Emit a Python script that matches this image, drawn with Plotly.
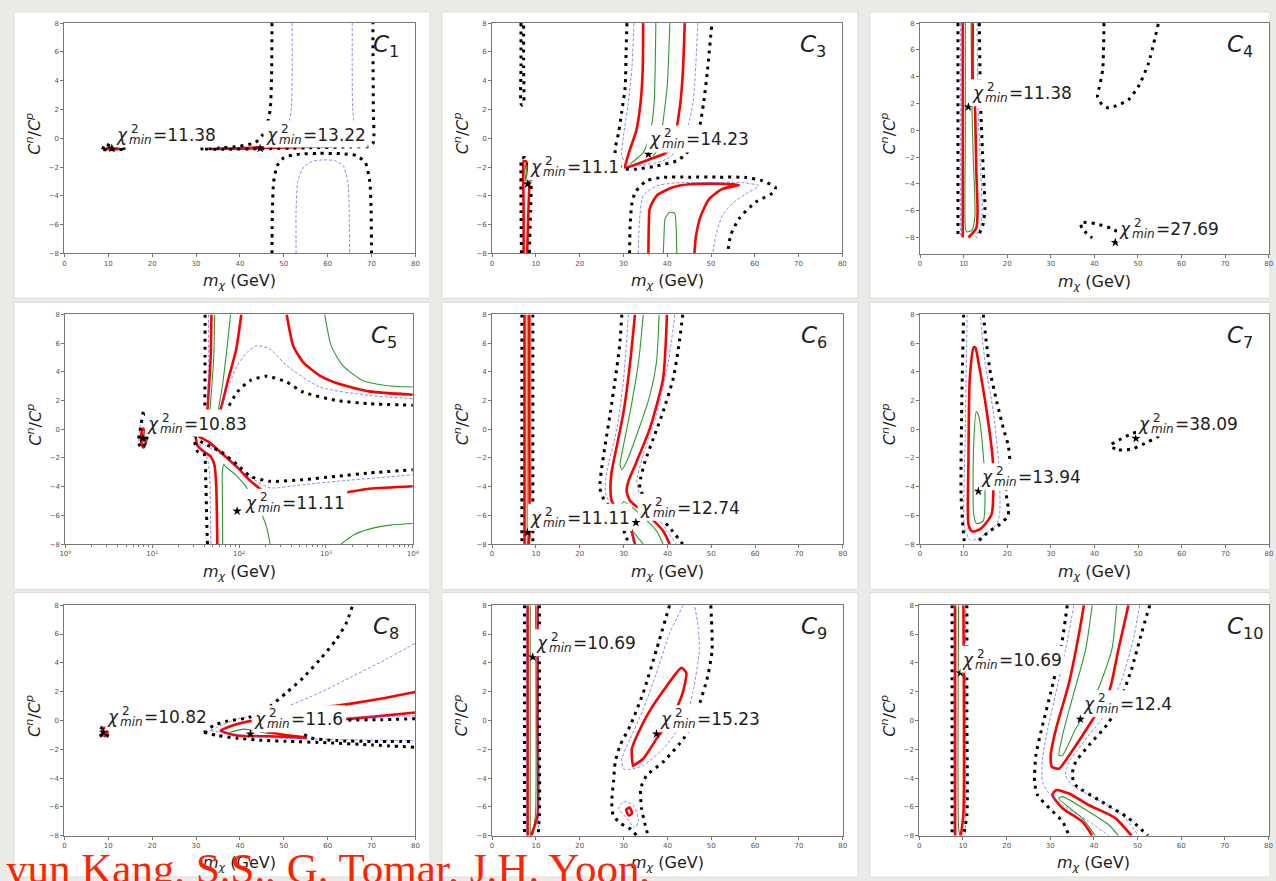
import math
import plotly.graph_objects as go

W, H = 1276, 881

# ---------------------------------------------------------------- data
# Contour curves: lists of (m_chi [GeV], C^n/C^p) vertices.
# levels: green (inner), red, blue dashed, black dotted (outer)

# ---- C1
C1_green = [[(47, -0.63), (51, -0.61), (55, -0.6)]]
C1_red = [[(9.5, -0.72), (11, -0.66), (12.5, -0.72), (11, -0.78), (9.5, -0.72)],
          [(33, -0.74), (40, -0.72), (45, -0.68), (50, -0.64), (56, -0.59), (62, -0.55)],
          [(40, -0.69), (45, -0.63), (50, -0.6), (56, -0.56), (62, -0.52)]]
C1_dashed = [[(51.9, 8), (51.9, 4), (51.7, 2), (51.2, 1.2), (50.5, 0.9)],
             [(65.6, 8), (65.6, 4), (65.7, 2), (66.0, 1.1)],
             [(33, -0.7), (45, -0.66), (55, -0.6), (65, -0.56), (68, -0.55)],
             [(52.8, -8), (52.8, -5), (53.2, -3), (54.5, -2), (56.5, -1.6), (59, -1.5),
              (61.5, -1.55), (63.5, -1.9), (64.6, -3), (64.9, -5), (65.0, -8)]]
C1_dotted = [[(47.3, 8), (47.2, 4), (46.9, 2), (46.2, 1.0), (45.0, 0.15), (43.5, -0.3), (40, -0.55),
              (35, -0.68), (31, -0.74), (36, -0.76), (45, -0.73), (55, -0.67), (65, -0.6),
              (69.5, -0.55), (70.4, -0.3), (70.4, 2), (70.3, 8)],
             [(47.3, -8), (47.4, -5), (47.7, -3), (48.5, -1.9), (50, -1.35), (53, -1.12), (58, -1.05),
              (63, -1.07), (66.5, -1.2), (68.6, -1.7), (69.6, -3), (69.9, -5), (70.0, -8)],
             [(8.7, -0.78), (9.3, -0.4), (10.5, -0.55), (12.5, -0.62), (14.1, -0.75), (8.7, -0.8)]]
C1_star_x = [10.8, 44.6]
C1_star_y = [-0.7, -0.7]
C1_chi2 = ["11.38", "13.22"]
C1_label_x = [11.9, 46.1]
C1_label_y = [0.26, 0.26]

# ---- C3
C3_green = [[(7.6, -1.8), (7.9, -2.3), (7.7, -3.0), (7.5, -2.3), (7.6, -1.8)],
            [(37.4, 8), (37.0, 2.44), (36.0, 0.15), (34.5, -1.0), (31.5, -1.8)],
            [(40.6, 8), (40.0, 3.6), (39.1, 1.3), (38.3, -0.54), (36.8, -1.23)],
            [(39.1, -8), (39.3, -6.5), (39.5, -5.6), (40.5, -5.15), (41.7, -5.2), (42.0, -6.0),
             (42.1, -6.8), (42.2, -8)]]
C3_red = [[(7.2, -8), (7.2, -5), (7.1, -2.5), (7.2, -1.6), (7.7, -1.6), (8.3, -2.2), (8.5, -3),
           (8.3, -5), (8.0, -8)],
          [(34.5, 8), (34.4, 4.74), (33.9, 2.44), (33.0, 0.61), (31.5, -0.77), (30.8, -1.46),
           (30.4, -2.03), (33.0, -1.8), (36.0, -1.46), (39.1, -1.11), (40.2, -0.88)],
          [(44.0, 8), (43.6, 4.74), (43.0, 2.44), (42.2, 0.72)],
          [(35.7, -8), (35.8, -6), (36.0, -4.9), (37.6, -3.98), (41.3, -3.41), (45, -3.2), (50, -3.15),
           (53.5, -3.18), (56.4, -3.25), (52.6, -3.52), (49.6, -4.21), (47.7, -5.36), (46.6, -6.74),
           (46.2, -8)]]
C3_dashed = [[(32.4, 8), (31.9, 4.74), (31.1, 2.44), (30.0, 0.15), (29.6, -1.23), (30.8, -1.8),
              (33.0, -1.92), (39.0, -1.57), (42.1, -0.88), (44.7, 0.84), (45.9, 2.44), (47.0, 8)],
             [(33.4, -8), (33.6, -6), (34.5, -4.0), (37.6, -3.3), (42, -3.1), (50, -3.07), (57, -3.07),
              (60.9, -3.3), (57.9, -3.87), (55, -4.5), (52.6, -5.36), (51.1, -6.74), (50.4, -8)]]
C3_dotted = [[(6.6, 8), (6.6, 5), (6.6, 2.4), (6.9, 2.3), (7.2, 2.4), (7.2, 5), (7.2, 8)],
             [(6.7, -8), (6.6, -5), (6.6, -2), (6.7, -1.4), (7.5, -1.35), (8.2, -1.8), (8.9, -3.0),
              (8.8, -5), (8.5, -8)],
             [(30.8, 8), (30.6, 5.9), (30.4, 3.6), (29.6, 1.8), (28.9, 0.4), (28.1, -0.8), (28.5, -1.7),
              (29.6, -2.05), (31, -2.15), (33, -2.15), (37.6, -1.92), (42.1, -1.57), (44.3, -1.1),
              (46.0, -0.2), (47.4, 0.84), (48.3, 2.44), (49.2, 4.74), (50.2, 8)],
             [(31.4, -8), (31.5, -6.28), (31.9, -4.6), (32.7, -3.75), (35.3, -2.95), (39, -2.72),
              (45, -2.7), (52, -2.7), (57.9, -2.72), (61.7, -2.95), (64.7, -3.41), (64.3, -3.75),
              (60.2, -4.44), (56.4, -5.59), (54.5, -6.74), (53.8, -8)]]
C3_star_x = [8.1, 35.7]
C3_star_y = [-3.18, -1.11]
C3_chi2 = ["11.1", "14.23"]
C3_label_x = [8.9, 36.0]
C3_label_y = [-2.03, -0.08]

# ---- C4
C4_green = [[(10.4, 8), (10.4, 0), (10.4, -7.3), (10.7, -7.58), (11.9, -7.46), (12.6, -6.35),
             (12.2, -2), (11.9, 2.03), (11.7, 8)]]
C4_red = [[(9.8, 8), (9.8, 0), (9.8, -8)],
          [(12.1, 8), (12.1, 3.76), (12.6, 1.79), (12.9, -2.9), (13.2, -6.1), (12.9, -7.3), (11.1, -8)]]
C4_dashed = [[(9.3, 8), (9.3, 0), (9.3, -8)],
             [(13.1, 8), (13.3, 2), (13.9, -3), (14.3, -5.9), (13.9, -7.2), (12.6, -8)]]
C4_dotted = [[(8.7, 8), (8.7, 0), (8.7, -8)],
             [(13.6, 8), (13.9, 2.03), (14.5, -2.9), (14.9, -5.86), (14.4, -7.1), (13.4, -7.83), (13.0, -8)],
             [(42.2, 8), (41.9, 4.5), (41.0, 3.02), (40.7, 2.53), (41.8, 1.91), (43.3, 1.66), (45.6, 1.91),
              (47.8, 2.28), (50.1, 3.27), (52.4, 4.99), (54.7, 8)],
             [(45.2, -7.55), (44.1, -7.34), (40.3, -6.97), (36.9, -6.89), (37.2, -7.34), (39.5, -8.03)]]
C4_star_x = [11.1, 44.8]
C4_star_y = [1.74, -8.37]
C4_chi2 = ["11.38", "27.69"]
C4_label_x = [12.1, 45.9]
C4_label_y = [2.77, -7.34]

# ---- C5 (log mass axis)
C5_green = [[(7.8, -0.9), (7.7, -0.5), (8.0, -0.2), (8.1, -0.6), (7.8, -0.9)],
            [(52.3, 8), (51, 5), (48.5, 3), (46, 1.2)],
            [(79.7, 8), (72, 5.5), (64, 3), (57, 1.2)],
            [(966, 8), (1150, 5.81), (1563, 4.43), (2643, 3.4), (4876, 3.05), (10000, 2.94)],
            [(64.5, -8), (64.3, -5), (64.0, -3), (66.5, -2.45), (69.8, -2.6), (94.9, -3.28),
             (134.7, -4.43), (175, -5.7), (208, -6.85), (227, -8)],
            [(1496, -8), (2100, -7.35), (3148, -6.96), (5500, -6.68), (10000, -6.57)]]
C5_red = [[(7.6, -1.1), (7.4, -0.5), (7.8, 0.05), (8.3, -0.15), (8.5, -0.8), (8.0, -1.25), (7.6, -1.1)],
          [(48, 8), (47, 5), (45, 3), (43, 1.2)],
          [(106, 8), (92, 5.5), (75, 3.5), (62, 1.5), (58, 1.0)],
          [(353, 8), (420, 5.81), (547, 4.66), (847, 3.74), (1312, 3.23), (3148, 2.64), (10000, 2.41)],
          [(31.6, -0.55), (33, -1.1), (38, -1.5), (47, -1.9), (52, -2.5), (54.5, -4), (55.5, -6), (56.1, -8)],
          [(34, -0.5), (45, -0.9), (61.2, -1.6), (94.9, -2.65), (134.7, -3.6), (191, -4.35)],
          [(1432, -4.5), (3148, -4.15), (10000, -3.97)]]
C5_dashed = [[(7.3, -1.2), (7.0, -0.6), (7.5, 0.5), (8.3, 0.3), (8.7, -0.7), (8.0, -1.35), (7.3, -1.2)],
             [(44.4, 8), (44.2, 5), (43.8, 2.5), (43.5, 1.2), (45, 0.7), (55, 0.8), (61.2, 1.21), (70, 2.5),
              (94.9, 4.43), (125, 5.4), (160, 5.81), (227, 5.58), (353, 4.43), (847, 2.94), (3148, 2.36),
              (10000, 2.13)],
             [(47.3, -8), (46.5, -5), (45.5, -3), (43, -2.0), (38, -1.4), (35, -0.95), (38, -1.0),
              (47, -1.35), (56, -1.55), (94.9, -2.7), (160, -3.63), (227, -4.09), (547, -3.86),
              (1312, -3.63), (10000, -3.17)]]
C5_dotted = [[(8.0, 1.33), (8.9, 0.06), (8.5, -0.86), (7.5, -1.32), (6.9, -0.86), (7.2, -0.17), (8.0, 1.33)],
             [(40.6, 8), (40.5, 5), (40.4, 3), (40.3, 1.2), (41, 0.3), (50, 0.3), (62, 0.7), (69.8, 1.21),
              (94.9, 2.59), (134.7, 3.4), (208, 3.7), (353, 3.28), (547, 2.59), (1312, 2.01), (3148, 1.78),
              (10000, 1.67)],
             [(43.2, -8), (42.2, -6), (41.3, -3.63), (39.5, -1.74), (33.2, -1.55), (30.4, -0.52),
              (36.2, -0.86), (47.1, -1.21), (61.2, -1.55), (94.9, -2.47), (134.7, -3.28), (227.5, -3.63),
              (547, -3.51), (1312, -3.28), (3148, -3.05), (10000, -2.82)]]
C5_star_x = [7.8, 94.9]
C5_star_y = [-0.63, -5.7]
C5_chi2 = ["10.83", "11.11"]
C5_label_x = [8.9, 121]
C5_label_y = [0.4, -5.12]

# ---- C6
C6_green = [[(8.0, 8), (8.0, -8)],
            [(34.5, 8), (33.4, 4.66), (31.5, 1.21), (30.0, -1.09), (29.2, -2.47), (29.6, -2.82),
             (30.7, -2.24), (33.0, -0.4), (36.0, 2.36), (37.5, 4.66), (38.1, 8)],
            [(34.5, -8), (31.5, -6.85), (29.4, -5.5), (30.0, -5.05), (33.0, -5.7), (37.5, -7.08), (39.0, -8)]]
C6_red = [[(7.4, 8), (7.4, 0), (7.4, -8)],
          [(8.5, 8), (8.5, 0), (8.5, -7.5), (8.3, -8)],
          [(32.6, 8), (31.5, 4.66), (30.0, 1.21), (28.5, -1.1), (27.3, -2.93), (27.0, -4.09), (27.3, -5.0),
           (28.5, -5.6), (30.0, -6.3), (31.5, -6.85), (32.6, -8)],
          [(39.9, 8), (39.0, 3.51), (36.0, 0.06), (33.0, -2.24), (31.1, -3.63), (30.7, -4.32), (31.5, -5.0),
           (35.3, -5.93), (39.0, -7.08), (40.5, -8)]]
C6_dashed = [[(31.1, 8), (30.0, 3.51), (28.5, 0.06), (26.2, -2.93), (25.8, -4.32), (27.0, -5.24),
              (29.0, -6.0), (31.5, -6.85), (32.2, -8)],
             [(41.7, 8), (40.2, 4.66), (37.5, 1.0), (34.5, -1.78), (33.0, -3.63), (33.7, -4.55), (36.0, -5.5),
              (38.3, -6.39), (42.0, -8)]]
C6_dotted = [[(6.8, 8), (6.8, 0), (6.8, -8)],
             [(9.3, 8), (9.3, 0), (9.3, -8)],
             [(29.6, 8), (29.1, 5.81), (28.1, 3.51), (27.0, 1.21), (25.8, -1.09), (24.9, -2.93), (24.6, -4.09),
              (25.5, -4.89), (26.6, -5.35), (28.9, -6.39), (30.4, -7.31), (31.1, -8)],
             [(43.5, 8), (42.6, 5.81), (41.3, 3.51), (39.0, 1.21), (36.8, -0.63), (34.9, -2.24), (33.9, -3.4),
              (33.7, -4.2), (34.9, -4.78), (38.0, -6.0), (40.5, -6.85), (43.5, -8)]]
C6_star_x = [8.1, 32.8]
C6_star_y = [-7.19, -6.5]
C6_chi2 = ["11.11", "12.74"]
C6_label_x = [8.9, 33.9]
C6_label_y = [-6.16, -5.47]

# ---- C7
C7_green = [[(12.9, 1.21), (12.3, -1.1), (12.3, -5.93), (13.0, -6.57), (14.5, -6.39), (14.9, -4.55),
             (14.5, -1.78), (13.4, 0.98), (12.9, 1.21)]]
C7_red = [[(12.3, 5.7), (11.4, 3.51), (11.1, -2.24), (11.1, -6.62), (11.9, -7.12), (13.8, -6.96),
           (16.4, -5.93), (16.7, -2.24), (15.3, 1.21), (13.4, 4.66), (12.7, 5.7), (12.3, 5.7)]]
C7_dashed = [[(10.8, 8), (10.4, 0.06), (10.2, -6.85), (11.5, -7.73), (13.0, -7.66), (17.6, -6.62),
              (18.3, -5.7), (18.0, -2.24), (16.8, 1.21), (14.9, 4.66), (13.8, 8)]]
C7_dotted = [[(10.0, 8), (9.6, 2.36), (9.4, -4.55), (9.85, -6.85), (10.2, -8)],
             [(14.5, 8), (15.3, 5.81), (16.1, 3.97), (17.6, 1.9), (19.1, 0.06), (20.2, -1.09), (20.6, -2.24),
              (20.1, -3.3), (19.7, -4.32), (20.2, -5.47), (20.2, -6.04), (18.3, -6.62), (16.1, -7.08),
              (14.2, -7.54), (13.0, -8)],
             [(43.7, -1.21), (45.6, -1.44), (48.6, -1.37), (52.4, -0.86), (55.1, -0.36), (54.3, -0.06),
              (50.9, -0.06), (47.9, -0.4), (45.6, -0.75), (43.9, -1.05), (43.7, -1.21)]]
C7_star_x = [13.4, 49.5]
C7_star_y = [-4.32, -0.63]
C7_chi2 = ["13.94", "38.09"]
C7_label_x = [14.2, 50.2]
C7_label_y = [-3.35, 0.4]

# ---- C8
C8_green = [[(37.8, -0.82), (40.9, -0.6), (43.9, -0.78)],
            [(44.5, -0.8), (46.9, -0.94)]]
C8_red = [[(8.6, -0.6), (9.4, -0.5), (9.8, -0.85), (9.2, -1.1), (8.7, -0.95), (8.6, -0.6)],
          [(42.7, -0.02), (39.4, -0.25), (35.6, -0.71), (39.4, -1.05), (46.9, -1.1), (55.2, -1.22)],
          [(46.1, -0.78), (50.0, -1.0), (55.2, -1.2)],
          [(55.9, 0.78), (65.0, 1.15), (72.0, 1.5), (80.0, 1.97)],
          [(64.2, 0.09), (70.0, 0.25), (80.0, 0.55)]]
C8_dashed = [[(8.6, -0.5), (9.8, -0.55), (9.9, -1.0), (8.7, -1.05), (8.6, -0.5)],
             [(33.3, -0.71), (36.0, -0.3), (39.4, 0.09), (44.0, 0.4), (49.1, 0.78), (58.2, 1.93),
              (65.7, 3.07), (73.2, 4.22), (80.0, 5.36)],
             [(33.3, -0.71), (40.0, -1.0), (47.0, -1.2), (54.4, -1.28), (65.0, -1.35), (80.0, -1.4)],
             [(80.0, 0.32), (70.0, 0.25), (64.0, 0.2)]]
C8_dotted = [[(8.5, -0.5), (9.6, -0.45), (10.1, -0.8), (9.6, -1.15), (8.6, -1.15), (8.1, -0.85), (8.5, -0.5)],
             [(31.8, -0.82), (34.0, -0.35), (37.0, -0.05), (42.0, 0.2), (46.9, 1.0), (50.6, 1.93),
              (54.4, 2.96), (58.2, 4.22), (61.9, 5.59), (64.2, 6.74), (65.7, 8)],
             [(31.8, -0.82), (35.0, -1.05), (39.4, -1.24), (45.0, -1.38), (50.6, -1.45), (60.0, -1.55),
              (70.0, -1.7), (80.0, -1.86)],
             [(80.0, 0.12), (72.0, 0.05), (64.0, 0.0), (58.0, -0.3), (54.0, -0.8), (56.0, -1.2), (62.0, -1.4),
              (70.0, -1.46), (80.0, -1.47)]]
C8_star_x = [8.9, 42.4]
C8_star_y = [-0.82, -0.94]
C8_chi2 = ["10.82", "11.6"]
C8_label_x = [10.0, 43.5]
C8_label_y = [0.21, 0.09]

# ---- C9
C9_green = [[(8.7, 8), (8.7, -8)],
            [(9.9, 8), (9.9, -6.5), (9.3, -7.9)]]
C9_red = [[(8.1, 8), (8.1, 0), (8.1, -8)],
          [(10.4, 8), (10.4, 0), (10.4, -6.55), (9.5, -7.5), (8.9, -8)],
          [(32.2, -3.16), (31.9, -1.97), (35.3, 0.32), (39.8, 2.38), (43.2, 3.65), (44.3, 3.3), (43.5, 1.93),
           (41.3, 0.32), (37.5, -1.28), (34.5, -2.66), (32.6, -3.07), (32.2, -3.16)],
          [(30.6, -6.2), (31.4, -6.05), (31.9, -6.45), (31.2, -6.6), (30.6, -6.2)]]
C9_dashed = [[(7.8, 8), (7.8, -8)],
             [(10.6, 8), (10.6, -8)],
             [(43.6, 8), (40.5, 6.05), (37.5, 3.3), (34.5, 0.78), (31.5, -1.28), (29.6, -2.66), (30.0, -3.35),
              (31.5, -3.4), (34.5, -3.12), (39.0, -1.97), (42.0, -0.82), (44.3, 0.32), (45.8, 1.93),
              (47.3, 4.91), (47.0, 6.5), (46.2, 8)],
             [(28.9, -6.1), (30.0, -5.64), (32.2, -5.87), (33.4, -7.01), (32.6, -7.47), (30.7, -6.78),
              (28.9, -6.1)]]
C9_dotted = [[(7.4, 8), (7.4, 0), (7.4, -8)],
             [(10.8, 8), (10.8, 0), (10.8, -6.5), (10.5, -8)],
             [(40.5, 8), (37.5, 4.91), (34.5, 1.93), (31.5, -0.37), (29.2, -1.74), (28.1, -2.89), (27.7, -4.26),
              (27.3, -5.64), (27.6, -6.55), (29.2, -7.13), (31.5, -7.52), (33.0, -8)],
             [(49.9, 8), (50.2, 4.91), (49.2, 3.07), (46.9, 0.78), (43.9, -1.17), (39.0, -2.89), (35.3, -3.8),
              (33.9, -4.72), (34.1, -6.1), (35.1, -7.47), (35.6, -8)]]
C9_star_x = [9.3, 37.5]
C9_star_y = [4.4, -0.94]
C9_chi2 = ["10.69", "15.23"]
C9_label_x = [10.2, 38.6]
C9_label_y = [5.36, 0.09]

# ---- C10
C10_green = [[(9.0, 8), (9.0, -7.5), (9.3, -8)],
             [(39.6, 8), (38.1, 4.91), (35.0, 1.47), (32.8, -1.05), (32.0, -2.43), (32.8, -2.43), (35.8, -0.6),
              (40.3, 1.7), (44.1, 4.91), (45.2, 8)],
             [(45.6, -8), (43.4, -7.24), (38.8, -6.33), (32.8, -5.29), (31.9, -5.41), (37.3, -6.78), (40.3, -8)]]
C10_red = [[(8.2, 8), (8.2, -8)],
           [(10.1, 8), (10.1, -6.5), (9.5, -8)],
           [(37.7, 8), (36.6, 6.05), (34.3, 2.61), (31.3, -0.6), (30.1, -2.43), (30.4, -3.23), (32.0, -3.35),
            (34.3, -2.43), (38.8, -0.37), (43.4, 1.93), (45.6, 4.91), (47.9, 8)],
           [(48.6, -8), (44.9, -6.78), (38.8, -5.87), (34.3, -5.07), (31.3, -4.84), (30.5, -5.18), (32.8, -6.1),
            (37.3, -7.01), (39.6, -8)]]
C10_dashed = [[(7.9, 8), (7.9, -8)],
              [(10.6, 8), (10.6, -8)],
              [(35.4, 8), (33.5, 4.91), (31.3, 1.93), (29.4, -0.6), (28.2, -2.66), (28.2, -4.26), (29.4, -4.95),
               (32.8, -5.87), (38.8, -7.01), (43.4, -8)],
              [(50.5, 8), (49.0, 5.59), (46.4, 2.84), (43.4, 0.78), (38.8, -1.05), (34.3, -2.89), (33.5, -3.8),
               (35.0, -4.49), (40.3, -5.41), (46.4, -6.55), (50.2, -8)]]
C10_dotted = [[(7.5, 8), (7.5, -8)],
              [(10.9, 8), (10.9, 0), (10.9, -6.55), (10.1, -8)],
              [(33.9, 8), (32.4, 4.91), (30.1, 1.93), (28.2, -0.37), (26.7, -2.43), (26.4, -4.26), (27.1, -5.18),
               (29.8, -6.1), (32.8, -7.01), (34.3, -8)],
              [(52.8, 8), (50.9, 6.05), (48.6, 3.53), (46.4, 1.7), (43.4, -0.14), (38.8, -1.74), (35.8, -2.89),
               (35.0, -3.8), (35.8, -4.49), (41.8, -5.64), (47.9, -6.78), (52.4, -8)]]
C10_star_x = [9.4, 36.9]
C10_star_y = [3.3, 0.09]
C10_chi2 = ["10.69", "12.4"]
C10_label_x = [10.1, 37.7]
C10_label_y = [4.22, 1.12]

# ticks
X_TICKS = [0, 10, 20, 30, 40, 50, 60, 70, 80]
Y_TICKS = [-8, -6, -4, -2, 0, 2, 4, 6, 8]
LOG_TICKS = [1, 10, 100, 1000, 10000]
LOG_TICKTEXT = ["10<sup>0</sup>", "10<sup>1</sup>", "10<sup>2</sup>", "10<sup>3</sup>", "10<sup>4</sup>"]
LOG_MINOR = [m * 10 ** d for d in range(4) for m in range(2, 10)]

# ---------------------------------------------------------------- layout config
# (name, left px, right px, top px, bottom px, x range, y range, log?)
PANELS = [
    ("1", 59, 413.3, 19.3, 251.7, [0, 80], [-8, 8], False,
     C1_green, C1_red, C1_dashed, C1_dotted, C1_star_x, C1_star_y, C1_chi2, C1_label_x, C1_label_y),
    ("3", 490.7, 844.3, 19.3, 251.7, [0, 80], [-8, 8], False,
     C3_green, C3_red, C3_dashed, C3_dotted, C3_star_x, C3_star_y, C3_chi2, C3_label_x, C3_label_y),
    ("4", 922.7, 1274.7, 19.3, 252.3, [0, 80], [-9.23, 8], False,
     C4_green, C4_red, C4_dashed, C4_dotted, C4_star_x, C4_star_y, C4_chi2, C4_label_x, C4_label_y),
    ("5", 60, 410.7, 313.3, 545, [0, 4], [-8, 8], True,
     C5_green, C5_red, C5_dashed, C5_dotted, C5_star_x, C5_star_y, C5_chi2, C5_label_x, C5_label_y),
    ("6", 490.7, 844.7, 313.3, 545, [0, 80], [-8, 8], False,
     C6_green, C6_red, C6_dashed, C6_dotted, C6_star_x, C6_star_y, C6_chi2, C6_label_x, C6_label_y),
    ("7", 922.7, 1275, 313.3, 545, [0, 80], [-8, 8], False,
     C7_green, C7_red, C7_dashed, C7_dotted, C7_star_x, C7_star_y, C7_chi2, C7_label_x, C7_label_y),
    ("8", 59, 413.3, 606.7, 839.3, [0, 80], [-8, 8], False,
     C8_green, C8_red, C8_dashed, C8_dotted, C8_star_x, C8_star_y, C8_chi2, C8_label_x, C8_label_y),
    ("9", 490.7, 844.7, 606.7, 839.3, [0, 80], [-8, 8], False,
     C9_green, C9_red, C9_dashed, C9_dotted, C9_star_x, C9_star_y, C9_chi2, C9_label_x, C9_label_y),
    ("10", 922, 1274.5, 606.7, 839.3, [0, 80], [-8, 8], False,
     C10_green, C10_red, C10_dashed, C10_dotted, C10_star_x, C10_star_y, C10_chi2, C10_label_x, C10_label_y),
]

STYLES = [
    dict(color="#2f9a2f", width=1.1),
    dict(color="#ff0000", width=2.6),
    dict(color="rgba(95,95,255,0.75)", width=1, dash="3px,2px"),
    dict(color="#000000", width=3, dash="3px,5px"),
]

CARDS_X = [(8, 428), (440, 860), (872, 1276)]
CARDS_Y = [(8, 297), (301, 591), (594, 881)]

FONT = "DejaVu Sans"
TXT = "#1e1e1e"
AXC = "#777777"

fig = go.Figure()
layout = dict(width=W, height=H, margin=dict(l=0, r=0, t=0, b=0), autosize=False,
              paper_bgcolor="#ecebe8", plot_bgcolor="white", showlegend=False,
              font=dict(family=FONT, color=TXT))
shapes = []
annotations = []

for cx in CARDS_X:
    for cy in CARDS_Y:
        shapes.append(dict(type="rect", xref="paper", yref="paper", layer="below",
                           x0=cx[0] / W, x1=cx[1] / W, y0=1 - cy[1] / H, y1=1 - cy[0] / H,
                           fillcolor="white", line=dict(color="#dddbd7", width=1)))


def text_width(s, size):
    em = {"=": 0.838, ".": 0.318}
    return sum(em.get(c, 0.636) for c in s) * size


for i, p in enumerate(PANELS):
    (name, l, r, t, b, xr, yr, islog, g, rd, da, do, sx, sy, chi, lx, ly) = p
    n = i + 1
    sfx = "" if n == 1 else str(n)
    xa, ya = "x" + sfx, "y" + sfx
    xaxis = dict(domain=[l / W, r / W], range=xr, anchor=ya, showline=True, mirror=True,
                 linecolor=AXC, linewidth=1, ticks="outside", ticklen=3, tickcolor=AXC,
                 tickfont=dict(size=7, color="#555"), showgrid=False, zeroline=False)
    if islog:
        xaxis.update(type="log", tickvals=LOG_TICKS, ticktext=LOG_TICKTEXT,
                     minor=dict(tickvals=LOG_MINOR, ticks="outside", ticklen=2, tickcolor=AXC))
    else:
        xaxis.update(tickvals=X_TICKS)
    yaxis = dict(domain=[1 - b / H, 1 - t / H], range=yr, anchor=xa, showline=True, mirror=True,
                 linecolor=AXC, linewidth=1, ticks="outside", ticklen=3, tickcolor=AXC,
                 tickvals=Y_TICKS, tickfont=dict(size=7, color="#555"), showgrid=False, zeroline=False)
    layout["xaxis" + sfx] = xaxis
    layout["yaxis" + sfx] = yaxis

    for curves, st in zip([g, rd, da, do], STYLES):
        for c in curves:
            fig.add_trace(go.Scatter(x=[v[0] for v in c], y=[v[1] for v in c], mode="lines",
                                     line=dict(shape="spline", smoothing=0.6, **st),
                                     xaxis=xa, yaxis=ya, hoverinfo="skip"))
    fig.add_trace(go.Scatter(x=sx, y=sy, mode="markers", xaxis=xa, yaxis=ya, hoverinfo="skip",
                             marker=dict(symbol="star", size=7, color="black")))

    xd, yd = xa + " domain", ya + " domain"

    def fx(v):
        if islog:
            return (math.log10(v) - xr[0]) / (xr[1] - xr[0])
        return (v - xr[0]) / (xr[1] - xr[0])

    def fy(v):
        return (v - yr[0]) / (yr[1] - yr[0])

    # chi^2_min labels (white box behind as in the original bbox)
    for k in range(len(chi)):
        X, Y = fx(lx[k]), fy(ly[k])
        val = "=" + chi[k]
        wbox = 35 + text_width(val, 17) + 3
        shapes.append(dict(type="rect", xref=xd, yref=yd, layer="above",
                           xsizemode="pixel", ysizemode="pixel", xanchor=X, yanchor=Y,
                           x0=-3, x1=wbox, y0=-13, y1=14, fillcolor="white", line=dict(width=0)))
        for txt, size, dx, dy in [("<i>χ</i>", 17, -3, 0), ("2", 12, 12, 6),
                                  ("<i>min</i>", 12, 10, -5), (val, 17, 34, 0)]:
            annotations.append(dict(text=txt, xref=xd, yref=yd, x=X, y=Y, xanchor="left",
                                    yanchor="middle", xshift=dx, yshift=dy, showarrow=False,
                                    font=dict(family=FONT, size=size, color=TXT)))

    # panel name
    annotations.append(dict(text="<i>C</i><sub>" + name + "</sub>", xref=xd, yref=yd, x=0.874, y=0.9,
                            xanchor="left", yanchor="middle", showarrow=False,
                            font=dict(family=FONT, size=23, color=TXT)))
    # axis titles
    annotations.append(dict(text="<i>m</i><sub><i>χ</i></sub> (GeV)", xref=xd, yref=yd, x=0.5, y=0,
                            xanchor="center", yanchor="middle", yshift=-28, showarrow=False,
                            font=dict(family=FONT, size=16, color=TXT)))
    annotations.append(dict(text="<i>C</i><sup><i>n</i></sup>/<i>C</i><sup><i>p</i></sup>", xref=xd,
                            yref=yd, x=0, y=0.5, xanchor="center", yanchor="middle", xshift=-31,
                            yshift=5, textangle=-90, showarrow=False,
                            font=dict(family=FONT, size=16, color=TXT)))

# footer text (cut at the page bottom in the original)
annotations.append(dict(text="yun Kang, S.S., G. Tomar, J.H. Yoon,", xref="paper", yref="paper",
                        x=-2 / W, y=1 - 847 / H, xanchor="left", yanchor="top", showarrow=False,
                        font=dict(family="Liberation Serif", size=43, color="#ff2200")))

layout["shapes"] = shapes
layout["annotations"] = annotations
fig.update_layout(**layout)
fig.write_html("out.html")
